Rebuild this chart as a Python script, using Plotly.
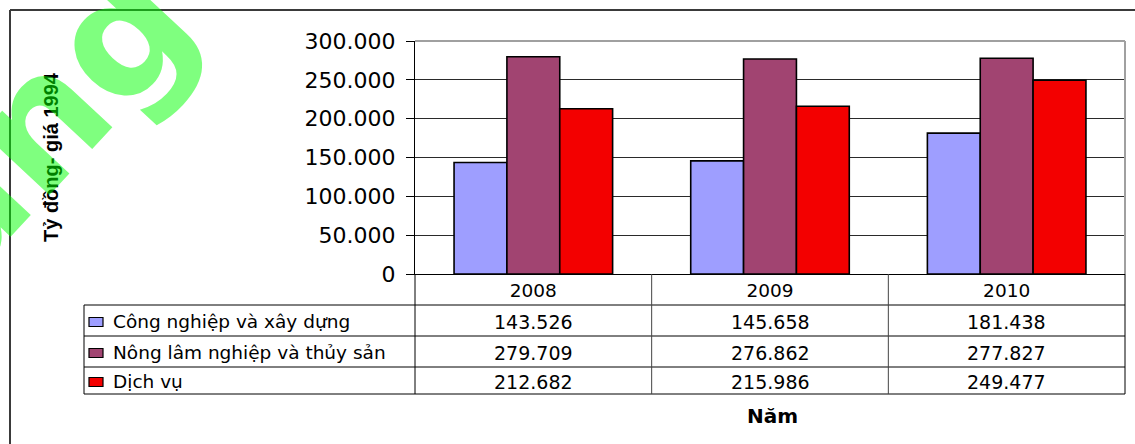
import plotly.graph_objects as go

# Data: GDP by sector (tỷ đồng, giá 1994)
years = ["2008", "2009", "2010"]
series_names = ["Công nghiệp và xây dựng", "Nông lâm nghiệp và thủy sản", "Dịch vụ"]
cong_nghiep = [143526, 145658, 181438]
nong_lam = [279709, 276862, 277827]
dich_vu = [212682, 215986, 249477]
y_ticks = [0, 50000, 100000, 150000, 200000, 250000, 300000]

series_values = [cong_nghiep, nong_lam, dich_vu]
colors = ["#9E9EFF", "#A14471", "#F30000"]

W, H = 1135, 444
L, R, T, B = 415, 10, 41, 170
PW = W - L - R
PH = H - T - B


def px(x):
    return (x - L) / PW


def py(y):
    return (H - B - y) / PH


def vn_number(v):
    return f"{v:,}".replace(",", ".")


fig = go.Figure()
for name, vals, col in zip(series_names, series_values, colors):
    fig.add_trace(go.Bar(
        x=years, y=vals, name=name,
        marker=dict(color=col, line=dict(color="#000000", width=1.6)),
    ))

shapes = []
annotations = []

# outer chart frame (left and top edges)
shapes.append(dict(type="line", xref="paper", yref="paper",
                   x0=px(10), x1=px(10), y0=py(10), y1=py(460),
                   line=dict(color="#3a3a3a", width=2)))
shapes.append(dict(type="line", xref="paper", yref="paper",
                   x0=px(10), x1=px(1150), y0=py(10), y1=py(10),
                   line=dict(color="#3a3a3a", width=2)))

# plot area border (top / right)
shapes.append(dict(type="line", xref="paper", yref="paper", x0=0, x1=1, y0=1, y1=1,
                   line=dict(color="#a0a0a0", width=2)))
shapes.append(dict(type="line", xref="paper", yref="paper", x0=1, x1=1, y0=0, y1=1,
                   line=dict(color="#a0a0a0", width=2)))

# data table grid
row_edges = [274, 305, 336, 367, 394]
table_left = 84
for yy in row_edges[1:]:
    shapes.append(dict(type="line", xref="paper", yref="paper",
                       x0=px(table_left), x1=1, y0=py(yy), y1=py(yy),
                       line=dict(color="#000000", width=1)))
shapes.append(dict(type="line", xref="paper", yref="paper",
                   x0=px(table_left), x1=px(table_left), y0=py(row_edges[1]), y1=py(row_edges[-1]),
                   line=dict(color="#000000", width=1)))
n = len(years)
for i in range(n + 1):
    shapes.append(dict(type="line", xref="paper", yref="paper",
                       x0=i / n, x1=i / n, y0=0, y1=py(row_edges[-1]),
                       line=dict(color="#000000" if i in (0, n) else "#444444", width=1)))

# table rows: legend key, series name, values
for r, (name, vals, col) in enumerate(zip(series_names, series_values, colors)):
    top, bot = row_edges[r + 1], row_edges[r + 2]
    yc = (top + bot) / 2 + 1
    shapes.append(dict(type="rect", xref="paper", yref="paper",
                       x0=px(89), x1=px(103), y0=py(yc - 4), y1=py(yc + 5),
                       fillcolor=col, line=dict(color="#000000", width=1.2)))
    annotations.append(dict(text=name, xref="paper", yref="paper",
                            x=px(111), y=py(yc), xanchor="left", yanchor="middle",
                            showarrow=False,
                            font=dict(family="DejaVu Sans", size=18.5, color="#000000")))
    for i, v in enumerate(vals):
        annotations.append(dict(text=vn_number(v), xref="paper", yref="paper",
                                x=(i + 0.5) / n, y=py(yc), xanchor="center", yanchor="middle",
                                showarrow=False,
                                font=dict(family="DejaVu Sans", size=19, color="#000000")))

# axis titles
annotations.append(dict(text="<b>Năm</b>", xref="paper", yref="paper",
                        x=px(772), y=py(416), xanchor="center", yanchor="middle",
                        showarrow=False,
                        font=dict(family="DejaVu Sans", size=20, color="#000000")))
annotations.append(dict(text="<b>Tỷ đồng- giá 1994</b>", xref="paper", yref="paper",
                        x=px(51), y=py(157), xanchor="center", yanchor="middle",
                        textangle=-90, showarrow=False,
                        font=dict(family="Liberation Sans", size=20, color="#000000")))

# watermark
annotations.append(dict(text="<b>ang</b>", xref="paper", yref="paper",
                        x=px(40), y=py(120), xanchor="center", yanchor="middle",
                        textangle=-47, showarrow=False,
                        font=dict(family="DejaVu Sans", size=168,
                                  color="rgba(0,255,0,0.5)")))

fig.update_layout(
    width=W, height=H,
    margin=dict(l=L, r=R, t=T, b=B, pad=0),
    paper_bgcolor="#ffffff", plot_bgcolor="#ffffff",
    barmode="group", bargap=0.33, bargroupgap=0,
    showlegend=False,
    separators=",.",
    shapes=shapes, annotations=annotations,
    xaxis=dict(type="category", range=[-0.5, n - 0.5], showgrid=False,
               showline=True, linecolor="#000000", linewidth=1,
               ticks="", tickfont=dict(family="DejaVu Sans", size=18.5, color="#000000")),
    yaxis=dict(range=[0, 300000], tickvals=y_ticks, tickformat=",d",
               showgrid=True, gridcolor="#2a2a2a", gridwidth=1,
               showline=True, linecolor="#000000", linewidth=1,
               ticks="outside", ticklen=8, tickcolor="#000000",
               ticklabelstandoff=6,
               tickfont=dict(family="DejaVu Sans", size=22, color="#000000"),
               zeroline=False),
)

fig.write_html("out.html")
